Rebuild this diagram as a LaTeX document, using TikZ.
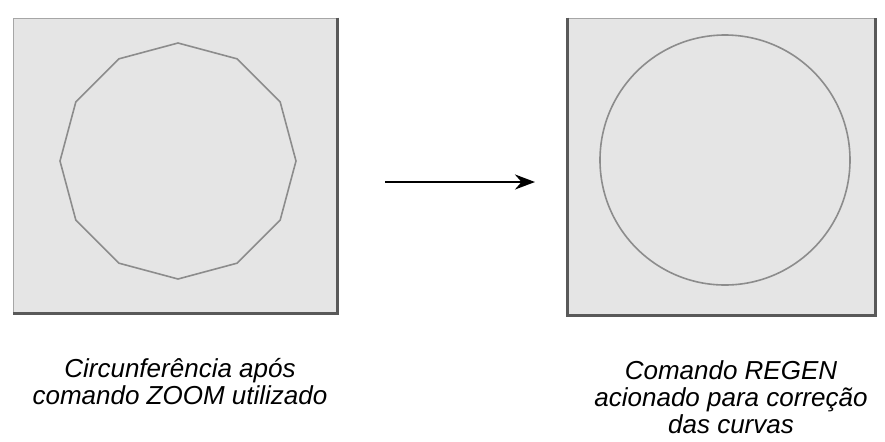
\documentclass[tikz,border=0pt]{standalone}
\usepackage{fontspec}
\setmainfont{Liberation Sans}
\usetikzlibrary{arrows.meta}
\usetikzlibrary{positioning}
\usetikzlibrary{shapes.geometric}

\begin{document}
\begin{tikzpicture}[
    x=0.5pt, y=-0.5pt,
    screen/.style={
        rectangle,
        draw=black!35,
        fill=gray!20,
        line width=0.5pt,
        inner sep=0pt
    },
    edge/.style={
        draw=black!65,
        line width=1.4pt
    },
    curve/.style={
        draw=black!45,
        line width=0.8pt,
        inner sep=0pt
    },
    caption/.style={
        align=center,
        font=\fontsize{13}{13.5}\selectfont\itshape
    }
]
    \useasboundingbox (0,0) rectangle (885,441);

    \node (zoombox) [screen, minimum width=162pt, minimum height=147.5pt] at (175,165.5) {};
    \node (regenbox) [screen, minimum width=153.5pt, minimum height=148.5pt] at (721.5,166.5) {};

    \node (polygon) [curve, regular polygon, regular polygon sides=12, shape border rotate=15, minimum size=118pt] at (178,161) {};
    \node (circle) [curve, circle, minimum size=125pt] at (725,160) {};

    % bordas escuras
    \draw [edge] (zoombox.north east) -- (zoombox.south east) -- (zoombox.south west);
    \draw [edge] (regenbox.north west) -- (regenbox.south west) -- (regenbox.south east) -- (regenbox.north east);

    \node (zoomtext) [caption] at (180,382) {Circunferência após\\comando ZOOM utilizado};
    \node (regentext) [caption] at (731,397) {Comando REGEN\\acionado para correção\\das curvas};

    % Seta
    \coordinate (tail) at (385,182);
    \coordinate (head) at (535,182);
    \draw [-{Stealth[length=10pt, width=7.5pt]}, line width=1.3pt] (tail) -- (head);
\end{tikzpicture}
\end{document}
